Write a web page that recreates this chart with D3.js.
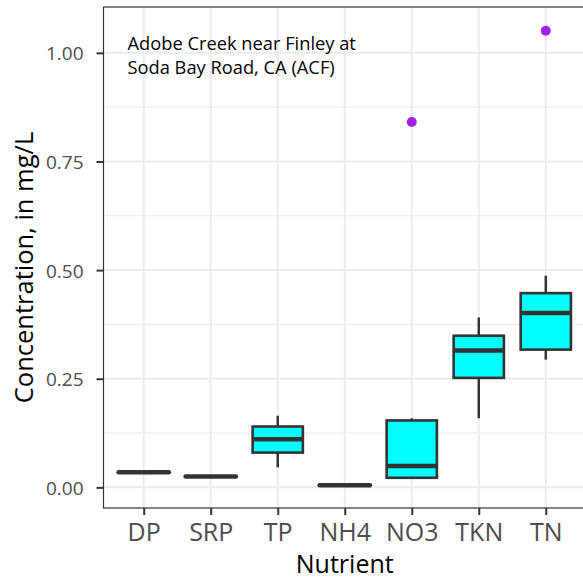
<!DOCTYPE html>
<html>
<head>
<meta charset="utf-8">
<script src="https://cdn.jsdelivr.net/npm/d3@7"></script>
<style>
  body { margin: 0; background: #fff; }
  svg text { font-family: "Open Sans", "Noto Sans", sans-serif; }
</style>
</head>
<body>
<div id="chart"></div>
<script>
// nutrient categories and box statistics (mg/L)
var nutrients = ["DP", "SRP", "TP", "NH4", "NO3", "TKN", "TN"];
var whiskerLow  = [0.035, 0.025, 0.046, 0.005, 0.020, 0.159, 0.294];
var q1          = [0.035, 0.025, 0.080, 0.005, 0.022, 0.252, 0.317];
var median      = [0.035, 0.025, 0.111, 0.005, 0.049, 0.315, 0.401];
var q3          = [0.035, 0.025, 0.140, 0.005, 0.154, 0.349, 0.447];
var whiskerHigh = [0.035, 0.025, 0.165, 0.005, 0.159, 0.391, 0.487];
var outliers = [
  {nutrient: "NO3", value: 0.841},
  {nutrient: "TN",  value: 1.051}
];
var yTicks = [0, 0.25, 0.5, 0.75, 1.0];
var yMinor = [0.125, 0.375, 0.625, 0.875];

var outerWidth = 583, outerHeight = 582;
var margin = {top: 7, right: -3, bottom: 74, left: 103.5};
var width = outerWidth - margin.left - margin.right,
    height = outerHeight - margin.top - margin.bottom;

var svg = d3.select("#chart").append("svg")
    .attr("width", outerWidth)
    .attr("height", outerHeight);

var g = svg.append("g")
    .attr("transform", "translate(" + margin.left + "," + margin.top + ")");

// discrete x with ggplot-like 0.6 expansion
var x = d3.scalePoint()
    .domain(nutrients)
    .range([0, width])
    .padding(0.6);
var step = x.step();
var boxW = step * 0.75;

var y = d3.scaleLinear()
    .domain([-0.0475, 1.1055])
    .range([height, 0]);

// grid
g.selectAll(".minor").data(yMinor).enter().append("line")
    .attr("x1", 0).attr("x2", width)
    .attr("y1", function(d){ return y(d); }).attr("y2", function(d){ return y(d); })
    .style("stroke", "#ebebeb").style("stroke-width", 1);
g.selectAll(".major").data(yTicks).enter().append("line")
    .attr("x1", 0).attr("x2", width)
    .attr("y1", function(d){ return y(d); }).attr("y2", function(d){ return y(d); })
    .style("stroke", "#ebebeb").style("stroke-width", 2);
g.selectAll(".vgrid").data(nutrients).enter().append("line")
    .attr("x1", function(d){ return x(d); }).attr("x2", function(d){ return x(d); })
    .attr("y1", 0).attr("y2", height)
    .style("stroke", "#ebebeb").style("stroke-width", 2);

var stats = nutrients.map(function(n, i){
    return {n: n, lo: whiskerLow[i], q1: q1[i], med: median[i], q3: q3[i], hi: whiskerHigh[i]};
});

var boxes = g.selectAll(".box").data(stats).enter().append("g");

boxes.append("line")
    .attr("x1", function(d){ return x(d.n); }).attr("x2", function(d){ return x(d.n); })
    .attr("y1", function(d){ return y(d.hi); }).attr("y2", function(d){ return y(d.q3); })
    .style("stroke", "#333").style("stroke-width", 2.5);
boxes.append("line")
    .attr("x1", function(d){ return x(d.n); }).attr("x2", function(d){ return x(d.n); })
    .attr("y1", function(d){ return y(d.q1); }).attr("y2", function(d){ return y(d.lo); })
    .style("stroke", "#333").style("stroke-width", 2.5);
boxes.append("rect")
    .attr("x", function(d){ return x(d.n) - boxW / 2; })
    .attr("width", boxW)
    .attr("y", function(d){ return y(d.q3); })
    .attr("height", function(d){ return y(d.q1) - y(d.q3); })
    .style("fill", "#00ffff")
    .style("stroke", "#333").style("stroke-width", 2.6);
boxes.append("line")
    .attr("x1", function(d){ return x(d.n) - boxW / 2; })
    .attr("x2", function(d){ return x(d.n) + boxW / 2; })
    .attr("y1", function(d){ return y(d.med); }).attr("y2", function(d){ return y(d.med); })
    .style("stroke", "#333").style("stroke-width", 4.5)
    .style("stroke-linecap", function(d){ return d.q1 === d.q3 ? "round" : "butt"; });

g.selectAll(".outlier").data(outliers).enter().append("circle")
    .attr("cx", function(d){ return x(d.nutrient); })
    .attr("cy", function(d){ return y(d.value); })
    .attr("r", 5)
    .style("fill", "#a020f0");

// panel border
g.append("rect")
    .attr("width", width).attr("height", height)
    .style("fill", "none").style("stroke", "#333").style("stroke-width", 1.2);

// axes
var yAxis = d3.axisLeft(y).tickValues(yTicks).tickFormat(d3.format(".2f")).tickSize(7).tickPadding(13);
var yAxisGroup = g.append("g").call(yAxis);
var xAxis = d3.axisBottom(x).tickSize(7).tickPadding(4);
var xAxisGroup = g.append("g").attr("transform", "translate(0," + height + ")").call(xAxis);

[yAxisGroup, xAxisGroup].forEach(function(ax){
    ax.select(".domain").remove();
    ax.selectAll(".tick line").style("stroke", "#333").style("stroke-width", 2);
    ax.selectAll(".tick text").style("fill", "#4d4d4d")
      .style("font-family", "'Open Sans', sans-serif");
});
yAxisGroup.selectAll(".tick text").attr("dy", "0.37em").style("font-size", "19px");
xAxisGroup.selectAll(".tick text").attr("y", 33).attr("dy", 0).style("font-size", "25px");

// titles
svg.append("text")
    .attr("x", margin.left + width / 2)
    .attr("y", 573)
    .attr("text-anchor", "middle")
    .style("font-size", "25px")
    .text("Nutrient");
svg.append("text")
    .attr("transform", "translate(33," + (margin.top + height / 2 + 10) + ") rotate(-90)")
    .attr("text-anchor", "middle")
    .style("font-size", "25.5px")
    .text("Concentration, in mg/L");

// annotation
var note = g.append("text")
    .attr("x", 24)
    .attr("y", 43)
    .style("font-size", "18.3px")
    .style("fill", "#000");
note.append("tspan").attr("x", 24).text("Adobe Creek near Finley at");
note.append("tspan").attr("x", 24).attr("dy", 24).text("Soda Bay Road, CA (ACF)");
</script>
</body>
</html>
